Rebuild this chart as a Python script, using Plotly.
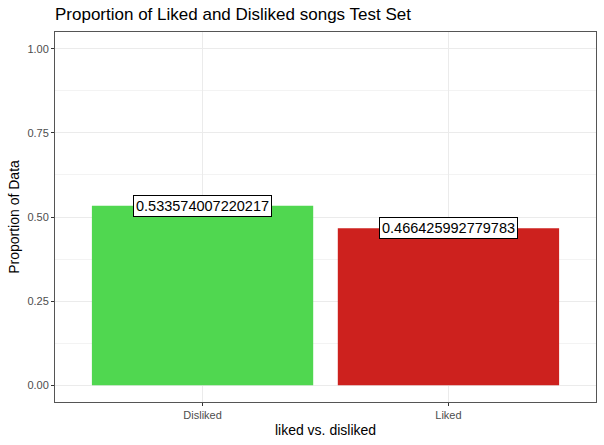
import plotly.graph_objects as go

groups = ["Disliked", "Liked"]
proportions = [0.533574007220217, 0.466425992779783]
bar_colors = ["#50D750", "#CD211E"]
y_ticks = [0.0, 0.25, 0.5, 0.75, 1.0]
y_tick_text = ["0.00", "0.25", "0.50", "0.75", "1.00"]

fig = go.Figure()
fig.add_trace(go.Bar(x=groups, y=proportions, width=0.9,
                     marker=dict(color=bar_colors, line=dict(width=0)),
                     hoverinfo="x+y"))

# geom_label style value labels
for g, p in zip(groups, proportions):
    fig.add_annotation(x=g, y=p, text=str(p), showarrow=False,
                       font=dict(family="Liberation Sans, Arial", size=14.5, color="black"),
                       bgcolor="white", bordercolor="black", borderwidth=1, borderpad=2)

fig.update_layout(
    width=604, height=445,
    margin=dict(l=55, r=8, t=32, b=43, autoexpand=False),
    paper_bgcolor="white", plot_bgcolor="white",
    showlegend=False, bargap=0.1,
    title=dict(text="Proportion of Liked and Disliked songs Test Set",
               x=55 / 604, xanchor="left", y=1 - 14 / 445, yanchor="middle",
               font=dict(family="Liberation Sans, Arial", size=17, color="black")),
    font=dict(family="Liberation Sans, Arial"),
)

fig.update_xaxes(range=[-0.6, 1.6], showgrid=True, gridcolor="#EBEBEB", gridwidth=1,
                 ticks="outside", ticklen=3, tickcolor="#333333", automargin=False,
                 tickfont=dict(size=11, color="#4D4D4D"),
                 title=dict(text="liked vs. disliked", standoff=4,
                            font=dict(size=14, color="black")),
                 showline=True, linecolor="#555555", mirror=True, zeroline=False)

fig.update_yaxes(range=[-0.05, 1.05], tickvals=y_ticks, ticktext=y_tick_text,
                 showgrid=True, gridcolor="#EBEBEB", gridwidth=1,
                 minor=dict(dtick=0.125, tick0=0.125, showgrid=True, gridcolor="#F3F3F3", gridwidth=0.6),
                 ticks="outside", ticklen=3, tickcolor="#333333", automargin=False,
                 tickfont=dict(size=11, color="#4D4D4D"),
                 title=dict(text="Proportion of Data", standoff=4,
                            font=dict(size=14, color="black")),
                 showline=True, linecolor="#555555", mirror=True, zeroline=False)

# browser default body margin would shift the figure by 8px
fig.write_html("out.html", config={"displayModeBar": False},
               post_script="document.body.style.margin='0';document.body.style.overflow='hidden';")
